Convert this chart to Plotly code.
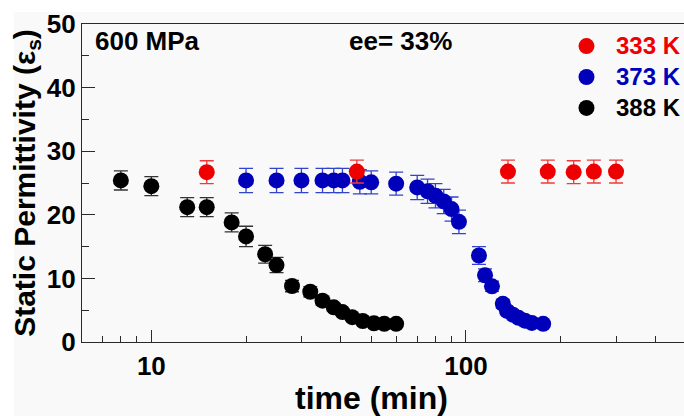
import math
import plotly.graph_objects as go

# Static permittivity vs. time at 600 MPa (ee = 33%)
t_333 = [15, 45, 136, 182, 220, 255, 300]
eps_333 = [26.7, 26.8, 26.8, 26.8, 26.7, 26.8, 26.8]
err_333 = [1.8, 1.8, 1.8, 1.8, 1.8, 1.8, 1.8]

t_373 = [20, 25, 30, 35, 38, 40.5, 46, 50, 60, 70, 75.5, 80, 85, 90, 95,
         110, 115, 121, 131, 135, 141, 147, 154, 162, 176]
eps_373 = [25.4, 25.4, 25.4, 25.4, 25.4, 25.4, 25.2, 25.1, 24.9, 24.3, 23.7,
           23.0, 22.1, 20.9, 18.9, 13.6, 10.5, 8.75, 6.0, 4.9, 4.3, 3.8,
           3.35, 3.0, 2.85]
err_373 = [1.9, 1.9, 1.9, 1.9, 1.9, 1.9, 1.9, 1.8, 1.8, 1.9, 1.9, 1.9, 1.9,
           1.9, 1.85, 1.4, 1.0, 0.8, 0.7, 0.6, 0.5, 0.5, 0.4, 0.4, 0.3]

t_388 = [8, 10, 13, 15, 18, 20, 23, 25, 28, 32, 35, 38, 40.5, 43.5, 47, 51,
         55, 60]
eps_388 = [25.4, 24.5, 21.2, 21.2, 18.8, 16.6, 13.8, 12.1, 8.8, 7.9, 6.5,
           5.45, 4.7, 3.9, 3.3, 2.95, 2.85, 2.85]
err_388 = [1.5, 1.5, 1.5, 1.5, 1.5, 1.6, 1.4, 1.2, 0.9, 0.8, 0.7, 0.6, 0.5,
           0.5, 0.4, 0.4, 0.3, 0.3]

major_ticks = [10, 100]
minor_ticks = [7, 8, 9, 20, 30, 40, 50, 60, 70, 80, 90, 200, 300, 400]

FONT = "Arial, Liberation Sans, sans-serif"
AX = "#2a2a2a"

series = [
    ("388 K", t_388, eps_388, err_388, "#000000", "#333333", "#000000"),
    ("373 K", t_373, eps_373, err_373, "#0000bb", "#3344cc", "#0000bb"),
    ("333 K", t_333, eps_333, err_333, "#ee0000", "#f03a3a", "#ee0000"),
]

fig = go.Figure()
for name, t, e, err, col, ecol, tcol in series:
    fig.add_trace(go.Scatter(
        x=t, y=e, mode="markers",
        name=f"<b><span style='color:{tcol};font-size:24px'>{name}</span></b>",
        marker=dict(size=16, color=col, line=dict(width=0)),
        error_y=dict(type="data", array=err, visible=True,
                     color=ecol, thickness=1.3, width=7),
    ))

x_range = [math.log10(6.02), math.log10(6.02) + 602 / 314.6]

fig.update_layout(
    template="none",
    width=684, height=416,
    margin=dict(l=82, r=0, t=24, b=74, autoexpand=False),
    paper_bgcolor="#f9f9f9",
    plot_bgcolor="#f9f9f9",
    font=dict(family=FONT, color="#000000"),
    showlegend=True,
    legend=dict(
        x=0.789, y=0.995, xanchor="left", yanchor="top",
        bgcolor="rgba(0,0,0,0)", borderwidth=0,
        traceorder="reversed", itemwidth=49,
        font=dict(family=FONT, size=21.5, weight="bold"),
    ),
    xaxis=dict(
        type="log", range=x_range,
        showgrid=False, zeroline=False,
        showline=True, linecolor=AX, linewidth=1.3, mirror=True,
        tickvals=major_ticks, ticktext=[str(v) for v in major_ticks],
        ticks="inside", ticklen=12, tickwidth=1.3, tickcolor=AX,
        minor=dict(tickvals=minor_ticks, ticks="inside", ticklen=6,
                   tickwidth=1.3, tickcolor=AX, showgrid=False),
        tickfont=dict(family=FONT, size=26, weight="bold"),
        ticklabelstandoff=1,
        automargin=False,
    ),
    xaxis2=dict(
        type="log", range=x_range, overlaying="x", anchor="y", side="bottom",
        showgrid=False, zeroline=False, showline=False,
        tickvals=major_ticks, showticklabels=False,
        ticks="outside", ticklen=12, tickwidth=1.3, tickcolor=AX,
        minor=dict(tickvals=minor_ticks, ticks="outside", ticklen=6,
                   tickwidth=1.3, tickcolor=AX, showgrid=False),
    ),
    yaxis=dict(
        range=[0, 50],
        showgrid=False, zeroline=False,
        showline=True, linecolor=AX, linewidth=1.3,
        tickvals=[0, 10, 20, 30, 40, 50],
        ticks="inside", ticklen=13, tickwidth=1.3, tickcolor=AX,
        minor=dict(tickvals=[5, 15, 25, 35, 45], ticks="inside", ticklen=7,
                   tickwidth=1.3, tickcolor=AX, showgrid=False),
        tickfont=dict(family=FONT, size=26, weight="bold"),
        title=dict(text="Static Permittivity (ε<sub>s</sub>)",
                   font=dict(family=FONT, size=30, weight="bold"),
                   standoff=2),
        automargin=False,
    ),
    annotations=[
        dict(text="600 MPa", x=0.0183, y=0.9465, xref="paper", yref="paper",
             xanchor="left", yanchor="middle", showarrow=False,
             font=dict(family=FONT, size=26, weight="bold")),
        dict(text="ee= 33%", x=0.440, y=0.9465, xref="paper", yref="paper",
             xanchor="left", yanchor="middle", showarrow=False,
             font=dict(family=FONT, size=26, weight="bold")),
        dict(text="time (min)", x=0.4817, y=-0.176, xref="paper", yref="paper",
             xanchor="center", yanchor="middle", showarrow=False,
             font=dict(family=FONT, size=32, weight="bold")),
    ],
    shapes=[
        # white border strips along the top and left of the page
        dict(type="rect", xref="paper", yref="paper", layer="below",
             x0=-0.2, x1=1.05, y0=1.0377, y1=1.2,
             fillcolor="#ffffff", line=dict(width=0)),
        dict(type="rect", xref="paper", yref="paper", layer="below",
             x0=-0.2, x1=-0.113, y0=-0.3, y1=1.2,
             fillcolor="#ffffff", line=dict(width=0)),
    ],
)

fig.write_html("out.html")
